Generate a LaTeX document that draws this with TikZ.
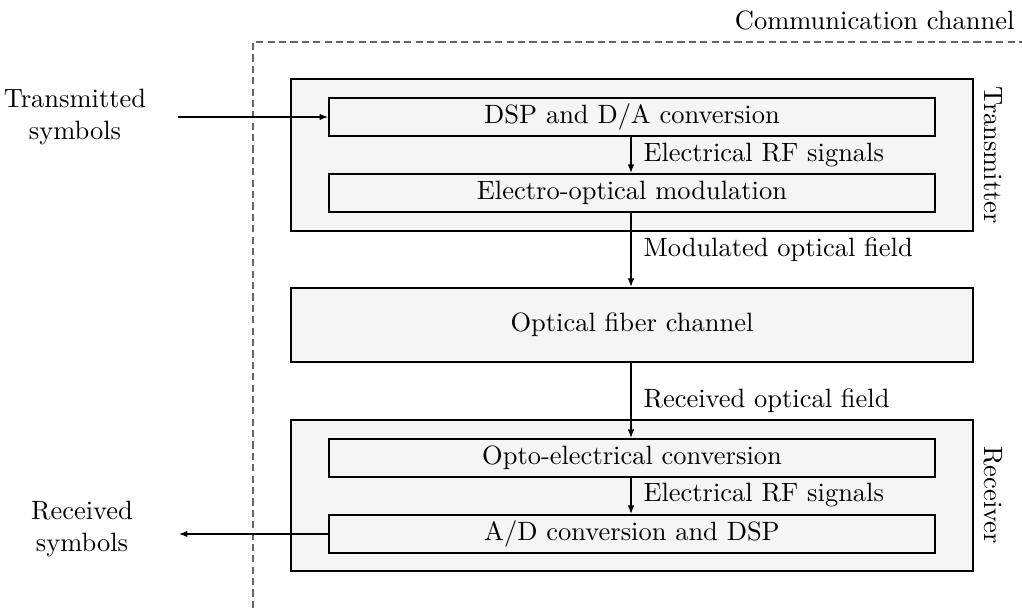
\documentclass[tikz,border=0pt]{standalone}
\usetikzlibrary{arrows.meta}
\begin{document}
\begin{tikzpicture}[x=0.01327cm,y=-0.01327cm,
  outerbox/.style={draw=black,line width=0.8pt,fill=black!4,minimum width=9.05cm,inner sep=0pt},
  innerbox/.style={draw=black,line width=0.8pt,fill=black!4,minimum width=8.042cm,minimum height=0.504cm,inner sep=0pt},
  conn/.style={-{Latex[length=3.2pt,width=2.4pt]},line width=0.4pt},
  lbl/.style={anchor=west,inner sep=0pt},
  chan/.style={draw=black!60,line width=0.4pt,dash pattern=on 2.7pt off 1.6pt}]
\useasboundingbox (0,0) rectangle (1022,608);
% channel frame
\coordinate (cbl) at (253,608);
\coordinate (ctl) at (253,42);
\coordinate (ctr) at (1022,42);
\draw[chan] (cbl) -- (ctl) -- (ctr);
\node[anchor=base east,inner sep=0pt] (chlabel) at (1015,30) {Communication channel};
% transmitter
\node[outerbox,minimum height=2.017cm] (tx) at (632,155) {};
\node[innerbox] (dsp) at (632,117) {DSP and D/A conversion};
\node[innerbox] (eom) at (632,193) {Electro-optical modulation};
\node[rotate=-90,inner sep=0pt] (txlabel) at (993,155) {Transmitter};
% fiber
\node[outerbox,minimum height=0.982cm] (fib) at (632,325) {Optical fiber channel};
% receiver
\node[outerbox,minimum height=2.0cm] (rx) at (632,495.5) {};
\node[innerbox] (oec) at (632,458) {Opto-electrical conversion};
\node[innerbox] (adc) at (632,534) {A/D conversion and DSP};
\node[rotate=-90,inner sep=0pt] (rxlabel) at (993,495) {Receiver};
% symbols
\node[align=center,inner sep=0pt] (tsym) at (75,117) {Transmitted\\symbols};
\node[align=center,inner sep=0pt] (rsym) at (82,529) {Received\\symbols};
\coordinate (tin) at (178,117);
\coordinate (rout) at (179,534);
% connectors
\draw[conn] (tin) -- (dsp.west);
\draw[conn] (adc.west) -- (rout);
\draw[conn] (dsp.south -| 631,0) -- (eom.north -| 631,0);
\draw[conn] (eom.south -| 631,0) -- (fib.north -| 631,0);
\draw[conn] (fib.south -| 631,0) -- (oec.north -| 631,0);
\draw[conn] (oec.south -| 631,0) -- (adc.north -| 631,0);
\node[lbl] (l1) at (643,155) {Electrical RF signals};
\node[lbl] (l2) at (643,250) {Modulated optical field};
\node[lbl] (l3) at (643,401) {Received optical field};
\node[lbl] (l4) at (643,495) {Electrical RF signals};
\end{tikzpicture}
\end{document}
